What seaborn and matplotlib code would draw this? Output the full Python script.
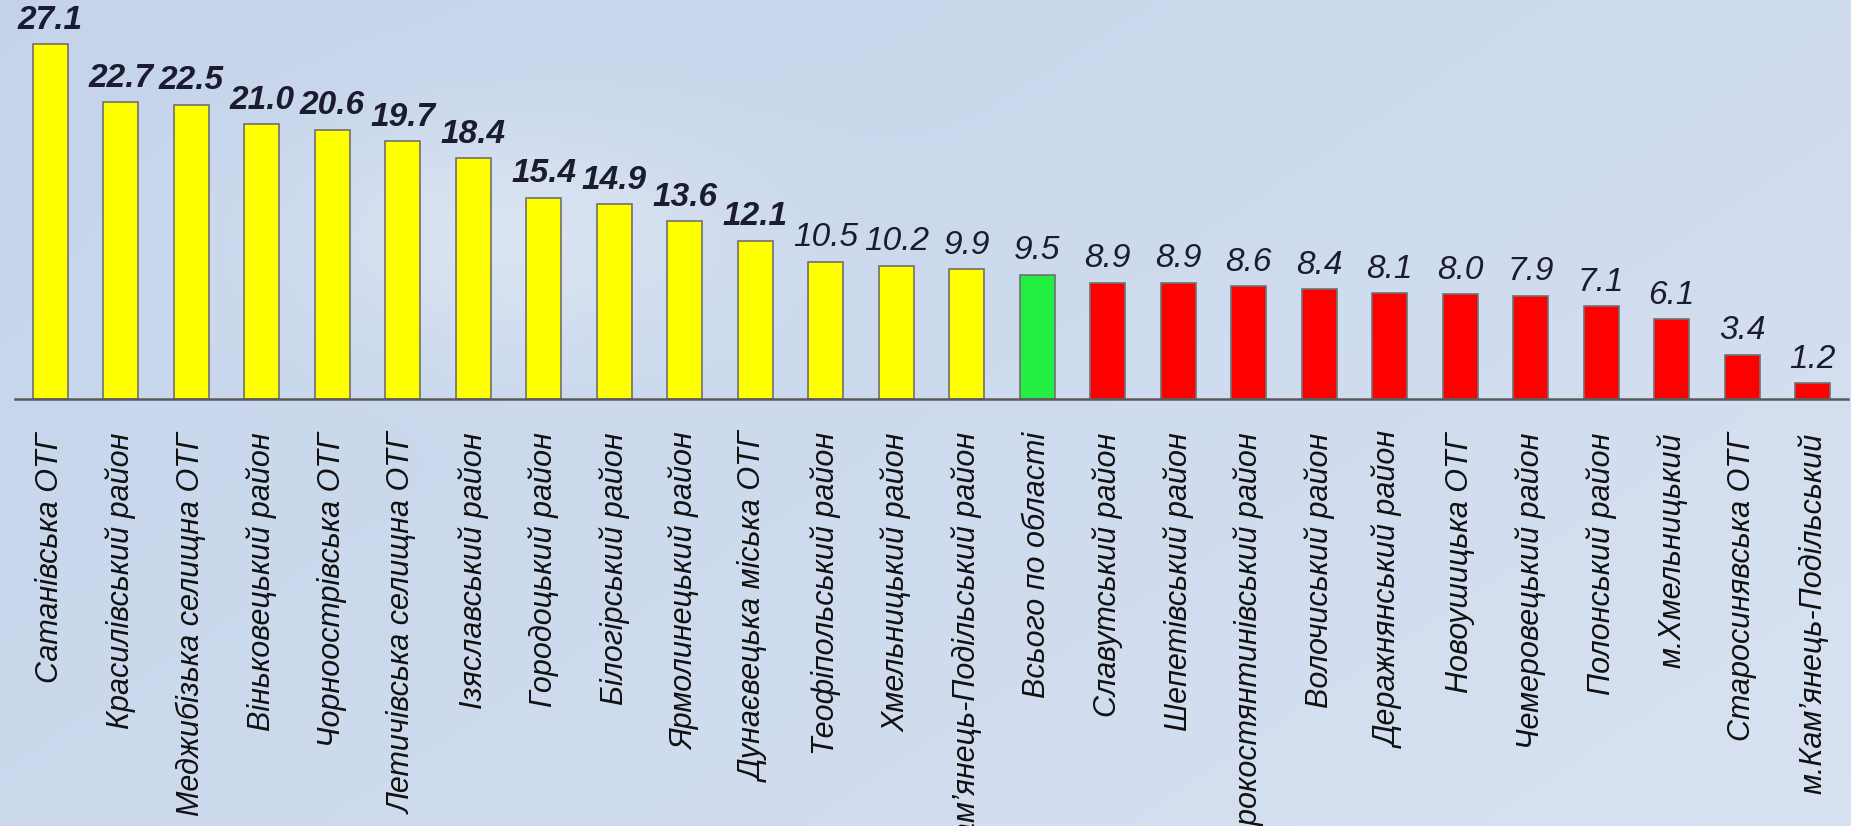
import numpy as np
import pandas as pd
import matplotlib
matplotlib.use("Agg")
import matplotlib.pyplot as plt
import seaborn as sns
from matplotlib.ticker import FixedLocator
from matplotlib import font_manager as fm

# data
regions = [
    "Сатанівська ОТГ", "Красилівський район", "Меджибізька селищна ОТГ",
    "Віньковецький район", "Чорноострівська ОТГ", "Летичівська селищна ОТГ",
    "Ізяславський район", "Городоцький район", "Білогірський район",
    "Ярмолинецький район", "Дунаєвецька міська ОТГ", "Теофіпольський район",
    "Хмельницький район", "Кам’янець-Подільський район", "Всього по області",
    "Славутський район", "Шепетівський район", "Старокостянтинівський район",
    "Волочиський район", "Деражнянський район", "Новоушицька ОТГ",
    "Чемеровецький район", "Полонський район", "м.Хмельницький",
    "Старосинявська ОТГ", "м.Кам’янець-Подільський",
]
values = [27.1, 22.7, 22.5, 21.0, 20.6, 19.7, 18.4, 15.4, 14.9, 13.6, 12.1,
          10.5, 10.2, 9.9, 9.5, 8.9, 8.9, 8.6, 8.4, 8.1, 8.0, 7.9, 7.1, 6.1,
          3.4, 1.2]
groups = ["above"] * 14 + ["total"] + ["below"] * 11
group_colors = {"above": "#ffff00", "total": "#22ee44", "below": "#ff0000"}

df = pd.DataFrame({"region": regions, "value": values, "group": groups})

sns.set_style("white")
installed = {f.name for f in fm.fontManager.ttflist}
if "Liberation Sans Narrow" in installed:
    plt.rcParams["font.family"] = ["Liberation Sans Narrow", "DejaVu Sans"]
    label_size, value_size = 27, 27
else:
    plt.rcParams["font.family"] = ["Liberation Sans", "DejaVu Sans"]
    label_size, value_size = 22, 24

fig = plt.figure(figsize=(18.51, 8.26), dpi=100)

# soft blue background
bg = fig.add_axes([0, 0, 1, 1], zorder=-10)
yy, xx = np.mgrid[0:1:200j, 0:1:400j]
shade = 0.30 * xx + 0.20 * (1 - yy) + 0.40 * np.exp(-((xx - 0.27) ** 2 / 0.015 + (yy - 0.72) ** 2 / 0.02))
shade = np.clip(shade, 0, 1)
c0 = np.array([0.77, 0.83, 0.92])
c1 = np.array([0.92, 0.94, 0.97])
img = c0 + (c1 - c0) * shade[..., None]
bg.imshow(img, aspect="auto", extent=[0, 1, 0, 1], origin="lower")
bg.set_axis_off()

ax = fig.add_axes([15 / 1851, 1 - 399 / 826, 1833 / 1851, 399 / 826])
ax.patch.set_alpha(0)

sns.barplot(data=df, x="region", y="value", hue="group", palette=group_colors,
            dodge=False, width=0.5, saturation=1, edgecolor="#707070",
            linewidth=1.2, legend=False, ax=ax)

ax.set_xlim(-0.5, len(regions) - 0.5)
ax.set_ylim(0, 30.5)
ax.set_xlabel("")
ax.set_ylabel("")
ax.set_yticks([])

for s in ["left", "right", "top"]:
    ax.spines[s].set_visible(False)
ax.spines["bottom"].set_color("#5a5a5a")
ax.spines["bottom"].set_linewidth(1.8)

ax.set_xticks(range(len(regions)))
ax.set_xticklabels(regions, rotation=90, fontsize=label_size, style="italic", color="#111111")
ax.tick_params(axis="x", which="major", length=0, pad=24)
ax.xaxis.set_minor_locator(FixedLocator(np.arange(-0.5, len(regions), 1)))
ax.tick_params(axis="x", which="minor", length=7, width=1.5, color="#5a5a5a", direction="out")

for i, v in enumerate(values):
    ax.annotate(f"{v:.1f}", (i, v), xytext=(0, 6), textcoords="offset points",
                ha="center", va="bottom", fontsize=value_size, style="italic",
                fontweight="bold" if i < 11 else "normal", color="#1c1c30")

fig.savefig("out.png", dpi=100)
